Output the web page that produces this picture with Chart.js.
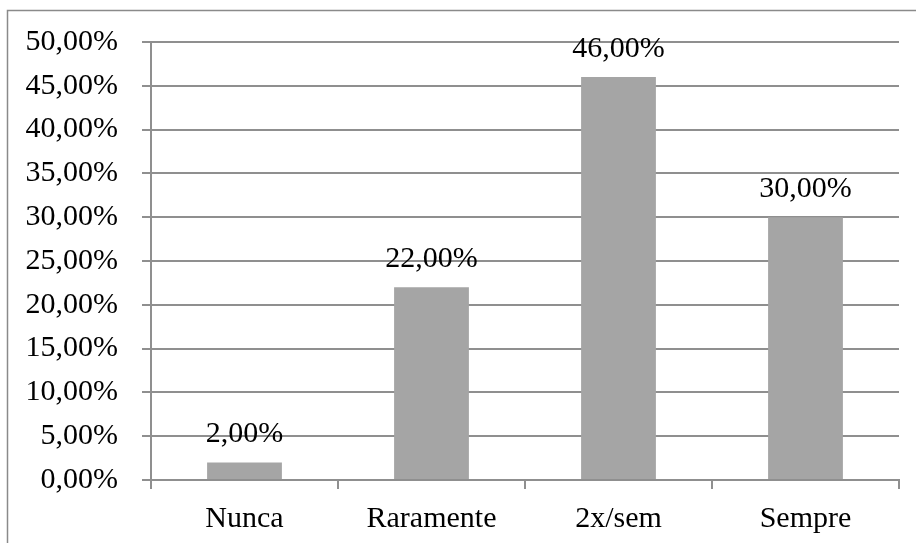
<!DOCTYPE html>
<html>
<head>
<meta charset="utf-8">
<script src="https://cdn.jsdelivr.net/npm/chart.js@4/dist/chart.umd.min.js"></script>
<style>
  html, body { margin: 0; padding: 0; background: #ffffff; }
  canvas { display: block; }
</style>
</head>
<body>
<canvas id="chart" width="916" height="543"></canvas>
<script>
// Frequência de respostas (%)
const categories = ["Nunca", "Raramente", "2x/sem", "Sempre"];
const percentValues = [2, 22, 46, 30];
const yTickMax = 50;
const yTickStep = 5;

const FONT = '"Liberation Serif", "Times New Roman", serif';
const GRID = '#8f8f8f';

const fmtPct = v => v.toFixed(2).replace('.', ',') + '%';

// Outer frame (top and left edges of the chart box)
const framePlugin = {
  id: 'frame',
  beforeDraw(chart) {
    const ctx = chart.ctx;
    ctx.save();
    ctx.strokeStyle = '#8a8a8a';
    ctx.lineWidth = 1.5;
    ctx.beginPath();
    ctx.moveTo(916, 10.5);
    ctx.lineTo(7.5, 10.5);
    ctx.lineTo(7.5, 543);
    ctx.stroke();
    ctx.restore();
  }
};

// Value labels above each bar
const valueLabels = {
  id: 'valueLabels',
  afterDatasetsDraw(chart) {
    const ctx = chart.ctx;
    const meta = chart.getDatasetMeta(0);
    ctx.save();
    ctx.font = '30px ' + FONT;
    ctx.fillStyle = '#000000';
    ctx.textAlign = 'center';
    ctx.textBaseline = 'alphabetic';
    meta.data.forEach((bar, i) => {
      ctx.fillText(fmtPct(percentValues[i]), bar.x, bar.y - 20);
    });
    ctx.restore();
  }
};

new Chart(document.getElementById('chart'), {
  type: 'bar',
  data: {
    labels: categories,
    datasets: [{
      data: percentValues,
      backgroundColor: '#a5a5a5',
      borderWidth: 0,
      categoryPercentage: 1.0,
      barPercentage: 0.4
    }]
  },
  options: {
    responsive: false,
    animation: false,
    devicePixelRatio: 1,
    layout: { padding: { top: 41, right: 17, left: 0, bottom: 0 } },
    plugins: {
      legend: { display: false },
      tooltip: { enabled: false }
    },
    scales: {
      x: {
        offset: true,
        grid: {
          offset: true,
          drawOnChartArea: false,
          drawTicks: true,
          tickLength: 9,
          color: GRID,
          lineWidth: 2
        },
        border: { display: true, color: GRID, width: 2 },
        ticks: {
          color: '#000000',
          font: { family: FONT, size: 30 },
          padding: 12,
          maxRotation: 0
        },
        afterFit(scale) { scale.height = 63; }
      },
      y: {
        min: 0,
        max: yTickMax,
        grid: {
          color: GRID,
          lineWidth: 2,
          drawTicks: true,
          tickLength: 9
        },
        border: { display: true, color: GRID, width: 2 },
        ticks: {
          stepSize: yTickStep,
          color: '#000000',
          font: { family: FONT, size: 30 },
          padding: 24,
          callback: v => fmtPct(v)
        },
        afterFit(scale) { scale.width = 151; }
      }
    }
  },
  plugins: [framePlugin, valueLabels]
});
</script>
</body>
</html>
